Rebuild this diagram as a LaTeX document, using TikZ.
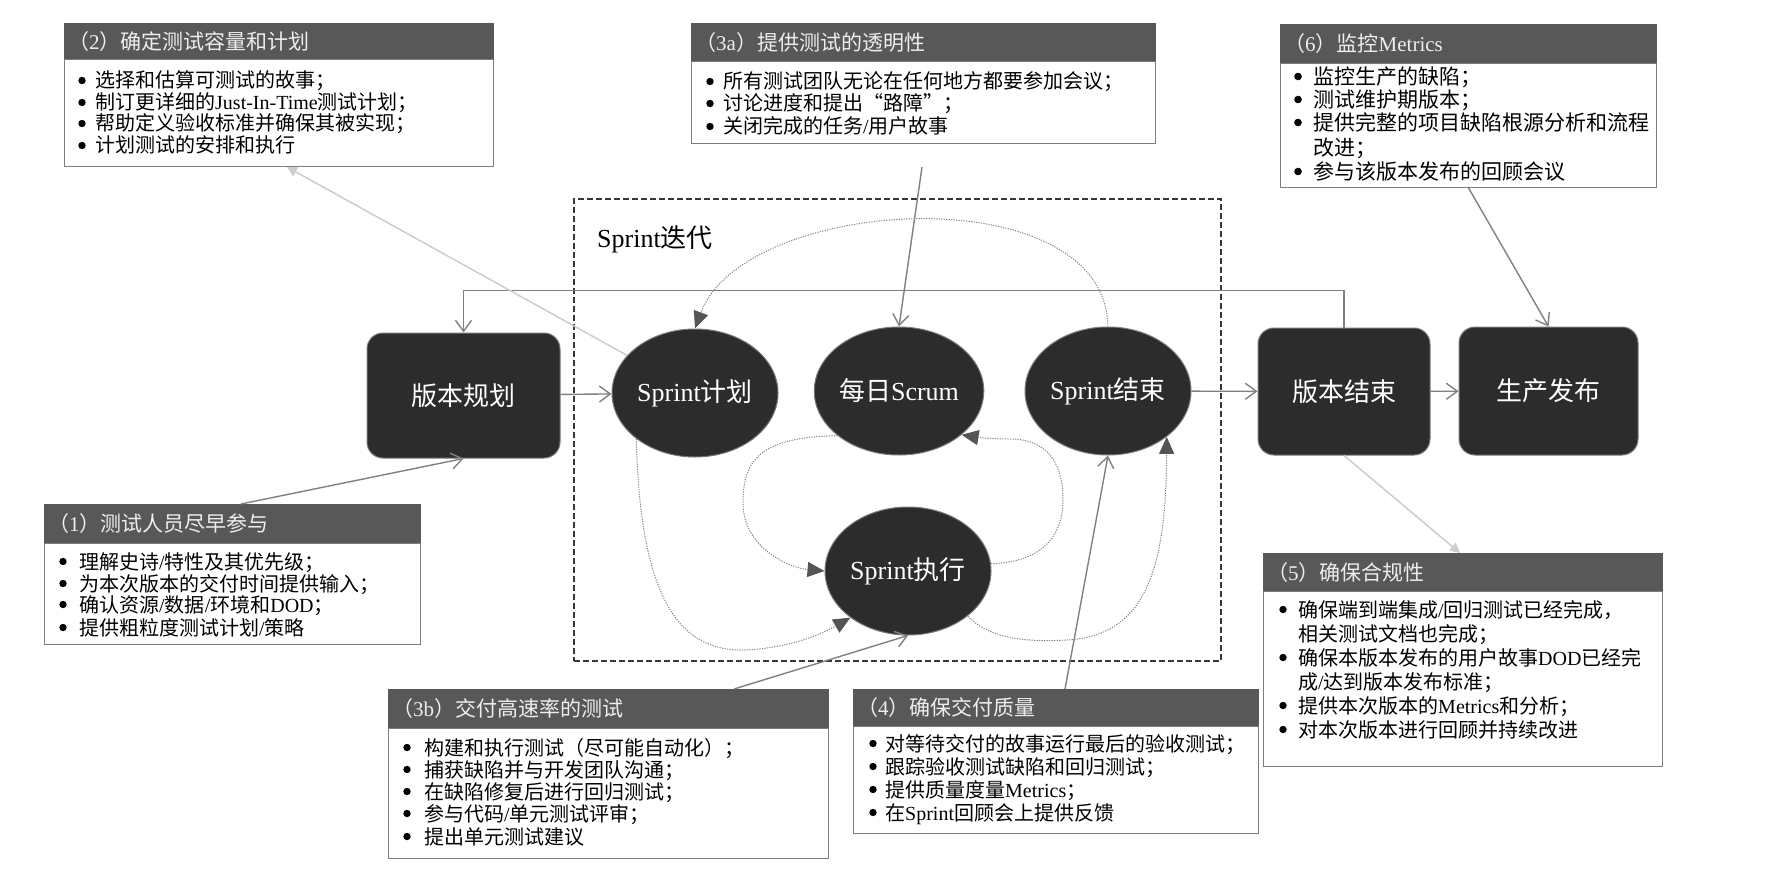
\documentclass[tikz,border=0pt]{standalone}
\usepackage{fontspec}
\setmainfont{Liberation Serif}
\newfontfamily\cjkfont{Noto Sans CJK SC}
\usetikzlibrary{arrows.meta,shapes.geometric,calc}
\XeTeXinterchartokenstate=1
\newXeTeXintercharclass\CJKcls
\makeatletter
\count@="4E00
\loop
  \XeTeXcharclass\count@=\CJKcls
\ifnum\count@<"9FFF
  \advance\count@ by 1
\repeat
\makeatother
\XeTeXcharclass"FF08=\CJKcls
\XeTeXcharclass"FF09=\CJKcls
\XeTeXcharclass"FF0C=\CJKcls
\XeTeXcharclass"FF1B=\CJKcls
\XeTeXcharclass"201C=\CJKcls
\XeTeXcharclass"201D=\CJKcls
\XeTeXinterchartoks 0 \CJKcls = {\cjkfont}
\XeTeXinterchartoks 4095 \CJKcls = {\cjkfont}
\XeTeXinterchartoks \CJKcls 0 = {\rmfamily}
\XeTeXinterchartoks \CJKcls 4095 = {\rmfamily}

\definecolor{nodefill}{RGB}{44,44,44}
\definecolor{nodeborder}{RGB}{120,120,120}
\definecolor{hdrfill}{RGB}{88,88,88}
\definecolor{hdrtext}{RGB}{238,238,238}
\definecolor{boxborder}{RGB}{125,125,125}
\definecolor{conngray}{RGB}{128,128,128}
\definecolor{lightconn}{RGB}{205,205,205}
\definecolor{dotgray}{RGB}{130,130,130}
\definecolor{tipgray}{RGB}{85,85,85}
\definecolor{dashcol}{RGB}{55,55,55}

\tikzset{
  hdr/.style={rectangle, fill=hdrfill, draw=hdrfill, anchor=north west, inner xsep=4pt, inner ysep=0pt,
    text=hdrtext, font=\fontsize{21}{24}\selectfont, align=left},
  bodyb/.style={rectangle, fill=white, draw=boxborder, line width=1.2pt, anchor=north west, inner sep=0pt},
  itm/.style={anchor=base west, inner sep=0pt, text=black, font=\fontsize{20}{24}\selectfont,
    text height=14pt, text depth=3.5pt},
  itmb/.style={anchor=base west, inner sep=0pt, text=black, font=\fontsize{21}{24}\selectfont,
    text height=14.5pt, text depth=3.5pt},
  bulletdot/.style={fill=black},
  darkbox/.style={rectangle, rounded corners=16pt, fill=nodefill, draw=nodeborder, line width=1pt,
    text=white, font=\fontsize{26}{30}\selectfont, inner sep=0pt},
  darkell/.style={ellipse, fill=nodefill, draw=nodeborder, line width=1pt, text=white,
    font=\fontsize{26}{30}\selectfont, minimum width=166pt, minimum height=128pt, inner sep=0pt},
  sprintbox/.style={rectangle, draw=dashcol, line width=1.6pt, dash pattern=on 6pt off 3pt, anchor=north west, inner sep=0pt},
  conn/.style={draw=conngray, line width=1.4pt, -{Straight Barb[length=11pt,width=16pt]}},
  lconn/.style={draw=lightconn, line width=1.5pt, -{Triangle[length=10pt,width=10pt]}},
  dotc/.style={draw=dotgray, line width=1pt, dash pattern=on 1.2pt off 1.3pt, -{Triangle[length=17pt,width=15pt,color=tipgray]}},
}

\begin{document}
\begin{tikzpicture}[x=1pt,y=-1pt]
\useasboundingbox (0,0) rectangle (1771,888);

% Sprint frame
\node[sprintbox, minimum width=647pt, minimum height=462pt] (sprint) at (573,198) {};
\node[anchor=base west, inner sep=0pt, font=\fontsize{26}{30}\selectfont] (sprintlbl) at (597,247) {Sprint迭代};

% main nodes
\node[darkbox, minimum width=193pt, minimum height=125pt] (plan) at (463.5,395.5) {版本规划};
\node[darkell] (spplan) at (695,393) {Sprint计划};
\node[darkell] (daily) at (899,391) {每日Scrum};
\node[darkell] (spend) at (1108,391) {Sprint结束};
\node[darkell] (spexec) at (908,571) {Sprint执行};
\node[darkbox, minimum width=172pt, minimum height=127pt] (relend) at (1344,391.5) {版本结束};
\node[darkbox, minimum width=179pt, minimum height=128pt] (prod) at (1548.5,391) {生产发布};

% Box (2)
\node[hdr, minimum width=429pt, minimum height=36pt, text width=421pt] (b2h) at (64,23) {（2）确定测试容量和计划};
\node[bodyb, minimum width=429pt, minimum height=107pt] (b2b) at (64,59) {};
\node[itm] (b2i1) at (95,88) {选择和估算可测试的故事；};
\node[itm] (b2i2) at (95,110) {制订更详细的Just-In-Time测试计划；};
\node[itm] (b2i3) at (95,131) {帮助定义验收标准并确保其被实现；};
\node[itm] (b2i4) at (95,153) {计划测试的安排和执行};
\foreach \n in {b2i1,b2i2,b2i3,b2i4} \fill[bulletdot] ($(\n.base west)+(-13,-7.5)$) circle (3.7pt);

% Box (3a)
\node[hdr, minimum width=464pt, minimum height=38pt, text width=456pt] (b3ah) at (691,23) {（3a）提供测试的透明性};
\node[bodyb, minimum width=464pt, minimum height=82pt] (b3ab) at (691,61) {};
\node[itm] (b3ai1) at (723,89) {所有测试团队无论在任何地方都要参加会议；};
\node[itm] (b3ai2) at (723,111) {讨论进度和提出“路障”；};
\node[itm] (b3ai3) at (723,134) {关闭完成的任务/用户故事};
\foreach \n in {b3ai1,b3ai2,b3ai3} \fill[bulletdot] ($(\n.base west)+(-13,-7.5)$) circle (3.7pt);

% Box (6)
\node[hdr, minimum width=376pt, minimum height=39pt, text width=368pt] (b6h) at (1280,24) {（6）监控Metrics};
\node[bodyb, minimum width=376pt, minimum height=124pt] (b6b) at (1280,63) {};
\node[itmb] (b6i1) at (1313,84.5) {监控生产的缺陷；};
\node[itmb] (b6i2) at (1313,107.5) {测试维护期版本；};
\node[itmb] (b6i3) at (1313,130.5) {提供完整的项目缺陷根源分析和流程};
\node[itmb] (b6i4) at (1313,155.5) {改进；};
\node[itmb] (b6i5) at (1313,179.5) {参与该版本发布的回顾会议};
\foreach \n in {b6i1,b6i2,b6i3,b6i5} \fill[bulletdot] ($(\n.base west)+(-15,-8)$) circle (3.8pt);

% Box (1)
\node[hdr, minimum width=376pt, minimum height=39pt, text width=368pt] (b1h) at (44,504) {（1）测试人员尽早参与};
\node[bodyb, minimum width=376pt, minimum height=101pt] (b1b) at (44,543) {};
\node[itm] (b1i1) at (79,569) {理解史诗/特性及其优先级；};
\node[itm] (b1i2) at (79,591) {为本次版本的交付时间提供输入；};
\node[itm] (b1i3) at (79,612) {确认资源/数据/环境和DOD；};
\node[itm] (b1i4) at (79,635) {提供粗粒度测试计划/策略};
\foreach \n in {b1i1,b1i2,b1i3,b1i4} \fill[bulletdot] ($(\n.base west)+(-16,-7.5)$) circle (3.7pt);

% Box (3b)
\node[hdr, minimum width=440pt, minimum height=39pt, text width=432pt] (b3bh) at (388,689) {（3b）交付高速率的测试};
\node[bodyb, minimum width=440pt, minimum height=130pt] (b3bb) at (388,728) {};
\node[itm] (b3bi1) at (424,755) {构建和执行测试（尽可能自动化）；};
\node[itm] (b3bi2) at (424,777) {捕获缺陷并与开发团队沟通；};
\node[itm] (b3bi3) at (424,799) {在缺陷修复后进行回归测试；};
\node[itm] (b3bi4) at (424,821) {参与代码/单元测试评审；};
\node[itm] (b3bi5) at (424,844) {提出单元测试建议};
\foreach \n in {b3bi1,b3bi2,b3bi3,b3bi4,b3bi5} \fill[bulletdot] ($(\n.base west)+(-17,-7.5)$) circle (3.7pt);

% Box (4)
\node[hdr, minimum width=405pt, minimum height=37pt, text width=397pt] (b4h) at (853,689) {（4）确保交付质量};
\node[bodyb, minimum width=405pt, minimum height=107pt] (b4b) at (853,726) {};
\node[itm] (b4i1) at (885,751) {对等待交付的故事运行最后的验收测试；};
\node[itm] (b4i2) at (885,774) {跟踪验收测试缺陷和回归测试；};
\node[itm] (b4i3) at (885,797) {提供质量度量Metrics；};
\node[itm] (b4i4) at (885,820) {在Sprint回顾会上提供反馈};
\foreach \n in {b4i1,b4i2,b4i3,b4i4} \fill[bulletdot] ($(\n.base west)+(-12,-7.5)$) circle (3.7pt);

% Box (5)
\node[hdr, minimum width=399pt, minimum height=38pt, text width=391pt] (b5h) at (1263,553) {（5）确保合规性};
\node[bodyb, minimum width=399pt, minimum height=175pt] (b5b) at (1263,591) {};
\node[itm] (b5i1) at (1298,617) {确保端到端集成/回归测试已经完成，};
\node[itm] (b5i2) at (1298,641) {相关测试文档也完成；};
\node[itm] (b5i3) at (1298,665) {确保本版本发布的用户故事DOD已经完};
\node[itm] (b5i4) at (1298,689) {成/达到版本发布标准；};
\node[itm] (b5i5) at (1298,713) {提供本次版本的Metrics和分析；};
\node[itm] (b5i6) at (1298,737) {对本次版本进行回顾并持续改进};
\foreach \n in {b5i1,b5i3,b5i5,b5i6} \fill[bulletdot] ($(\n.base west)+(-15,-7.5)$) circle (3.7pt);

% connector end points at the boxes
\coordinate (b2pt) at (287,167);
\coordinate (b3apt) at (922,167);
\coordinate (b6pt) at (1468,187);
\coordinate (b1pt) at (241,504);
\coordinate (b3bpt) at (734,689);
\coordinate (b4pt) at (1065,689);
\coordinate (b5pt) at (1460,553);

% solid connectors
\draw[conn] (plan) -- (spplan);
\draw[conn] (spend) -- (relend);
\draw[conn] (relend) -- (prod);
\draw[conn] (relend.north) -- ++(0,-37) -| (plan.north);
\draw[conn] (b3apt) -- (daily.north);
\draw[conn] (b6pt) -- (prod.north);
\draw[conn] (b1pt) -- (plan.south);
\draw[conn] (b3bpt) -- (spexec.south);
\draw[conn] (b4pt) -- (spend.south);
\draw[lconn] (spplan) -- (b2pt);
\draw[lconn] (relend.south) -- (b5pt);

% dotted cycle arrows
\draw[dotc] (spend.north) .. controls (1105,175) and (745,195) .. (spplan.north);
\draw[dotc] (spplan.-142) .. controls (640,600) and (680,652) .. (745,650) .. controls (790,648) and (822,634) .. (spexec.-141);
\draw[dotc] (daily.-144) .. controls (760,437) and (743,460) .. (743,503) .. controls (743,548) and (790,568) .. (spexec.west);
\draw[dotc] (spexec.5) .. controls (1048,562) and (1063,530) .. (1063,500) .. controls (1063,455) and (1040,439) .. (1010,439) .. controls (990,439) and (975,437) .. (daily.-35);
\draw[dotc] (spexec.-37) .. controls (990,640) and (1030,642) .. (1067,640) .. controls (1150,636) and (1166,560) .. (spend.-38);
\end{tikzpicture}
\end{document}
